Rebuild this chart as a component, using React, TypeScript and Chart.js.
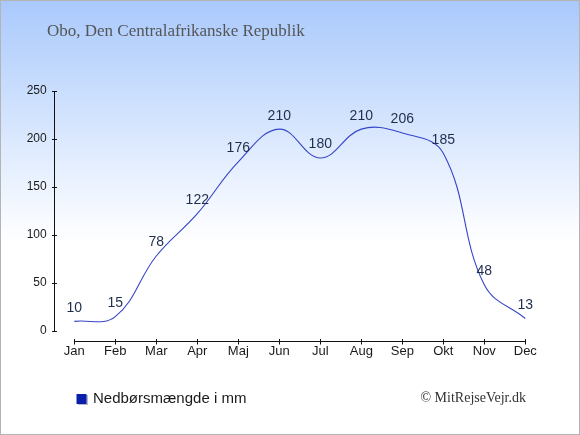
import React, { useEffect, useRef } from "react";
import { Chart, registerables } from "chart.js";

Chart.register(...registerables);

const months = ["Jan", "Feb", "Mar", "Apr", "Maj", "Jun", "Jul", "Aug", "Sep", "Okt", "Nov", "Dec"];
const rainfall = [10, 15, 78, 122, 176, 210, 180, 210, 206, 185, 48, 13];
const yTicks = [0, 50, 100, 150, 200, 250];
const titleText = "Obo, Den Centralafrikanske Republik";
const seriesLabel = "Nedbørsmængde i mm";
const creditText = "© MitRejseVejr.dk";

const SANS = "'Liberation Sans', Arial, sans-serif";
const SERIF = "'Liberation Serif', 'Times New Roman', serif";

const decorPlugin = {
  id: "decor",
  beforeDraw(chart: any) {
    const { ctx, width, height } = chart;
    ctx.save();
    const g = ctx.createLinearGradient(0, 0, 0, height);
    g.addColorStop(0, "#a9c9fc");
    g.addColorStop(0.5, "#f7faff");
    g.addColorStop(0.56, "#ffffff");
    g.addColorStop(1, "#ffffff");
    ctx.fillStyle = g;
    ctx.fillRect(0, 0, width, height);
    ctx.strokeStyle = "#b4b4b4";
    ctx.lineWidth = 1;
    ctx.strokeRect(0.5, 0.5, width - 1, height - 1);

    // title
    ctx.fillStyle = "#555555";
    ctx.font = `17px ${SERIF}`;
    ctx.textAlign = "left";
    ctx.textBaseline = "middle";
    ctx.fillText(titleText, 47, 32);
    ctx.restore();
  },
  beforeDatasetsDraw(chart: any) {
    const { ctx, scales, chartArea } = chart;
    const xs = scales.x;
    const ys = scales.y;
    ctx.save();
    ctx.strokeStyle = "#111111";
    ctx.lineWidth = 1;
    // y axis
    const axX = 54.5;
    const yTop = ys.getPixelForValue(250);
    const yBot = ys.getPixelForValue(0);
    ctx.beginPath();
    ctx.moveTo(axX, Math.round(yTop));
    ctx.lineTo(axX, Math.round(yBot) + 0.5);
    ctx.stroke();
    ys.ticks.forEach((t: any) => {
      const py = Math.round(ys.getPixelForValue(t.value)) + 0.5;
      ctx.beginPath();
      ctx.moveTo(52, py);
      ctx.lineTo(57, py);
      ctx.stroke();
    });
    // x axis
    const axY = 341.5;
    const x0 = xs.getPixelForValue(0);
    const x1 = xs.getPixelForValue(months.length - 1);
    ctx.beginPath();
    ctx.moveTo(Math.round(x0), axY);
    ctx.lineTo(Math.round(x1) + 1, axY);
    ctx.stroke();
    months.forEach((_, i) => {
      const px = Math.round(xs.getPixelForValue(i)) + 0.5;
      ctx.beginPath();
      ctx.moveTo(px, axY - 2.5);
      ctx.lineTo(px, axY + 3);
      ctx.stroke();
    });
    ctx.restore();
  },
  afterDatasetsDraw(chart: any) {
    const { ctx } = chart;
    const meta = chart.getDatasetMeta(0);
    const ds = chart.data.datasets[0];
    ctx.save();
    ctx.fillStyle = "#1f2d4d";
    ctx.font = `14px ${SANS}`;
    ctx.textAlign = "center";
    ctx.textBaseline = "middle";
    meta.data.forEach((el: any, i: number) => {
      ctx.fillText(String(ds.data[i]), el.x, el.y - 13.5);
    });

    // legend
    ctx.fillStyle = "#b8b8c8";
    ctx.fillRect(78, 395, 10, 10);
    ctx.fillStyle = "#0a1faa";
    ctx.fillRect(76.5, 394, 10, 10);
    ctx.fillStyle = "#1a1a1a";
    ctx.font = `15px ${SANS}`;
    ctx.textAlign = "left";
    ctx.fillText(ds.label, 93, 399);

    // credit
    ctx.fillStyle = "#333333";
    ctx.font = `14px ${SERIF}`;
    ctx.textAlign = "right";
    ctx.fillText(creditText, 526, 398);
    ctx.restore();
  },
};

export default function App() {
  const ref = useRef<HTMLCanvasElement>(null);
  useEffect(() => {
    if (!ref.current) return;
    const chart = new Chart(ref.current, {
      type: "line",
      data: {
        labels: months,
        datasets: [
          {
            label: seriesLabel,
            data: rainfall,
            borderColor: "#3545c8",
            backgroundColor: "#0a1faa",
            borderWidth: 1.1,
            pointRadius: 0,
            tension: 0.4,
            fill: false,
          },
        ],
      },
      options: {
        animation: false,
        responsive: false,
        devicePixelRatio: 1,
        layout: { padding: { left: 0, right: 54.7, top: 90.7, bottom: 0 } },
        plugins: {
          legend: { display: false },
          title: { display: false },
          tooltip: { enabled: false },
        },
        scales: {
          x: {
            type: "category",
            offset: false,
            grid: { display: false, drawTicks: false },
            border: { display: false },
            ticks: {
              color: "#1a1a1a",
              font: { family: SANS, size: 13 },
              padding: 13,
              maxRotation: 0,
              autoSkip: false,
            },
            afterFit: (s: any) => {
              s.height = 104;
            },
          },
          y: {
            min: 0,
            max: 250,
            grid: { display: false, drawTicks: false },
            border: { display: false },
            afterBuildTicks: (s: any) => {
              s.ticks = yTicks.map((v) => ({ value: v }));
            },
            ticks: {
              color: "#1a1a1a",
              font: { family: SANS, size: 12 },
              padding: 27.6,
            },
            afterFit: (s: any) => {
              s.width = 74.3;
            },
          },
        },
      },
      plugins: [decorPlugin],
    });
    return () => chart.destroy();
  }, []);
  return (
    <div style={{ position: "absolute", left: 0, top: 0, width: 580, height: 435 }}>
      <canvas ref={ref} width={580} height={435} style={{ display: "block" }} />
    </div>
  );
}
